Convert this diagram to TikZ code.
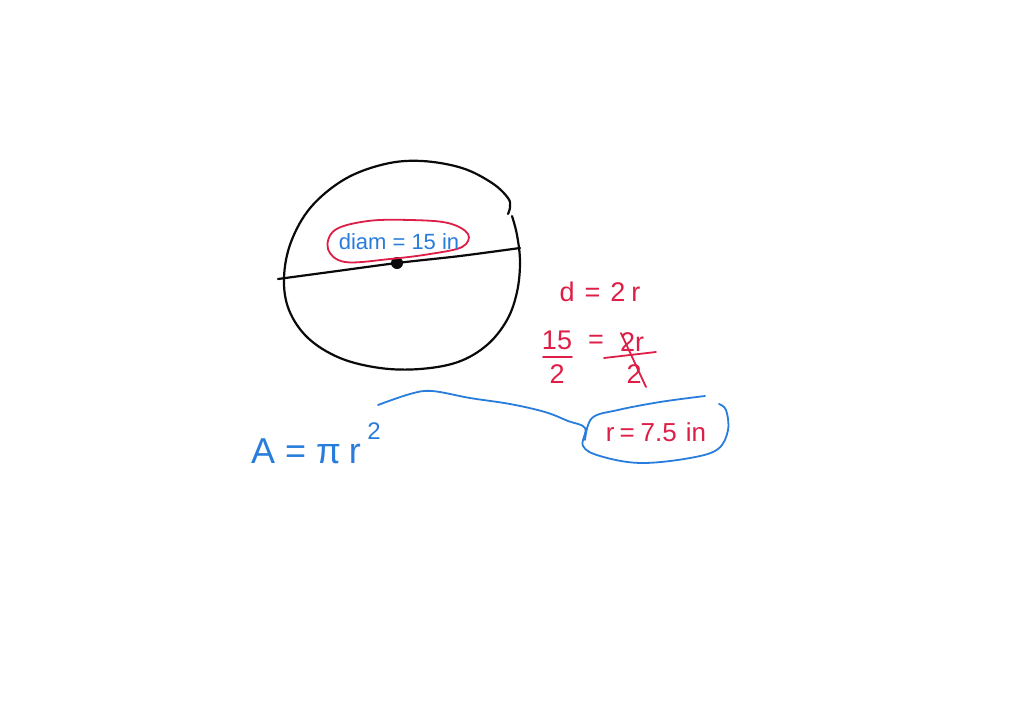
\documentclass[tikz,border=0pt]{standalone}
\usepackage{fontspec}
\setmainfont{Liberation Sans}
\begin{document}
\begin{tikzpicture}[x=1pt,y=-1pt,line cap=round,line join=round]
\definecolor{ink}{RGB}{10,10,10}
\definecolor{redink}{RGB}{222,30,70}
\definecolor{blueink}{RGB}{40,125,220}
\tikzset{
  pen/.style={draw=ink,line width=2.2pt},
  redpen/.style={draw=redink,line width=1.8pt},
  bluepen/.style={draw=blueink,line width=1.8pt},
  redtxt/.style={text=redink,font=\fontsize{27}{29}\selectfont,inner sep=0pt},
  bluetxt/.style={text=blueink,font=\fontsize{22}{24}\selectfont,inner sep=0pt}
}
\useasboundingbox[fill=white] (0,0) rectangle (1024,712);
% circle
\draw[pen] plot[smooth,tension=0.6] coordinates {(512,216) (517,235) (520,262) (517,292) (507,320) (487,345) (458,362) (420,369) (380,368) (340,358) (308,338) (289,310) (284,278) (291,242) (311,207) (345,179) (385,164) (422,161) (462,168) (492,183) (508,198) (510,207) (508,214)};
% diameter
\draw[pen] plot[smooth] coordinates {(278,279) (330,272) (397,263) (460,256) (520,248)};
\node[circle,fill=ink,minimum size=12pt,inner sep=0pt] (ctr) at (397,263) {};
% red ellipse and label
\draw[redpen] plot[smooth cycle,tension=0.6] coordinates {(328,249) (335,230) (368,221) (410,220) (448,223) (468,234) (462,247) (430,254) (390,259) (345,262)};
\node[bluetxt] (diam) at (399,242) {diam = 15 in};
% red working
\node[redtxt] (d2r) at (600,292) {d\hspace{10pt}=\hspace{10pt}2\hspace{6pt}r};
\node[redtxt] (n15) at (557,340) {15};
\node[redtxt] (d15) at (557,374) {2};
\draw[redpen] (543,357) -- (572,357);
\node[redtxt] (eq2) at (596,342) {=};
\node[redtxt] (n2r) at (632,342) {2r};
\node[redtxt] (d2) at (634,374) {2};
\draw[redpen] (604,358) -- (656,352);
\draw[redpen] (621,333) -- (646,387);
% blue
\node[text=blueink,font=\fontsize{36}{38}\selectfont,inner sep=0pt] (area) at (306,451) {A\hspace{10pt}=\hspace{10pt}π\hspace{8pt}r};
\node[bluetxt,font=\fontsize{24}{26}\selectfont] (sq) at (374,431) {2};
\node[redtxt,font=\fontsize{26}{28}\selectfont] (rval) at (656,432) {r\hspace{5pt}=\hspace{6pt}7.5\hspace{9pt}in};
\coordinate (wstart) at (378,405);
\draw[bluepen] plot[smooth,tension=0.6] coordinates {(378,405) (410,394) (432,391) (470,398) (510,404) (545,412) (568,421) (585,428) (583,446) (600,456) (640,463) (690,458) (718,449) (728,430) (726,410) (719,404)};
\draw[bluepen] plot[smooth,tension=0.6] coordinates {(585,440) (592,418) (618,410) (660,402) (705,396)};
\end{tikzpicture}
\end{document}
